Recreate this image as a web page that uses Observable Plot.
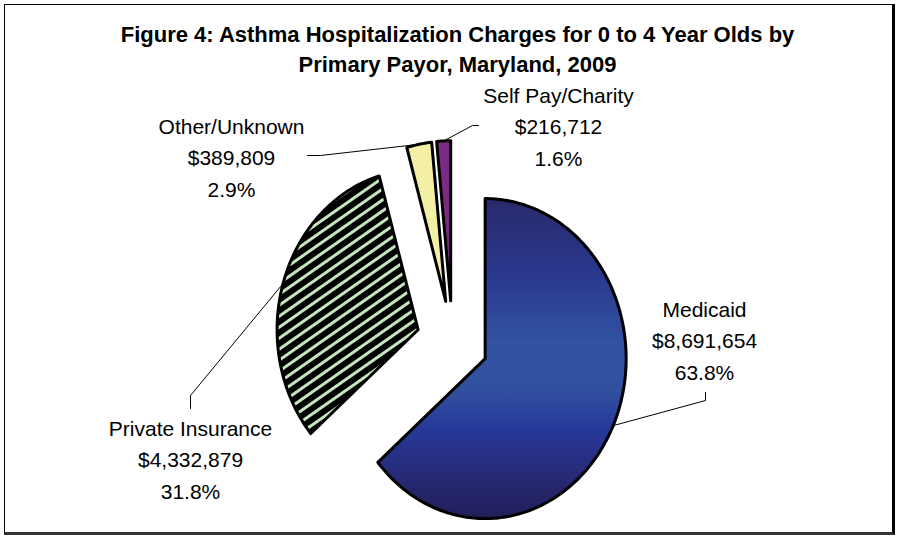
<!DOCTYPE html>
<html>
<head>
<meta charset="utf-8">
<script src="https://cdn.jsdelivr.net/npm/d3@7"></script>
<script src="https://cdn.jsdelivr.net/npm/@observablehq/plot@0.6"></script>
<style>
  html, body { margin: 0; padding: 0; background: #fff; }
  #wrap { position: relative; width: 900px; height: 540px; overflow: hidden; }
  #border { position: absolute; left: 4px; top: 4px; width: 887px; height: 527px;
    border-left: 1px solid #000; border-top: 1px solid #000;
    border-right: 3px solid #000; border-bottom: 3px solid #333; pointer-events: none; }
</style>
</head>
<body>
<div id="wrap"><div id="chart"></div><div id="border"></div></div>
<script>
// ---- data ----
const titleLines = ["Figure 4: Asthma Hospitalization Charges for 0 to 4 Year Olds by", "Primary Payor, Maryland, 2009"];
const categories = ["Medicaid", "Private Insurance", "Other/Unknown", "Self Pay/Charity"];
const charges = [8691654, 4332879, 389809, 216712];

// ---- styles ----
const fills = ["url(#medicaidGrad)", "url(#privateStripes)", "#f3f0a4", "#7b2b82"];

// ---- layout (pixels) ----
const W = 900, H = 540;
const cx = 452, cy = 341, rx = 141, ry = 160; // pie centre and radii (elliptical)
const explode = 0.255;
const labelPx = [[704, 338], [190, 457], [231, 155], [558, 124]];      // label block centres
const leaderPx = [
  [[705, 400], [705, 392]],
  [[190, 395], [190, 408]],
  [[320, 155], [307, 155]],
  [[472, 125], [478, 125]]
];
const fx = px => (px - cx) / rx;
const fy = py => (cy - py) / ry;

const total = d3.sum(charges);
const arcs = d3.pie().sort(null).value(d => d)(charges);

const slicePts = [];
const leaderPts = [];
const labels = [];
arcs.forEach((a, i) => {
  const mid = (a.startAngle + a.endAngle) / 2;
  const ox = explode * Math.sin(mid), oy = explode * Math.cos(mid);
  const key = categories[i];
  slicePts.push({key, x: ox, y: oy, fill: fills[i]});
  const n = Math.max(3, Math.ceil((a.endAngle - a.startAngle) * 180 / Math.PI));
  for (let k = 0; k <= n; k++) {
    const t = a.startAngle + (a.endAngle - a.startAngle) * k / n;
    slicePts.push({key, x: ox + Math.sin(t), y: oy + Math.cos(t), fill: fills[i]});
  }
  leaderPts.push({key, x: ox + Math.sin(mid), y: oy + Math.cos(mid)});
  leaderPx[i].forEach(([px, py]) => leaderPts.push({key, x: fx(px), y: fy(py)}));
  labels.push({
    x: fx(labelPx[i][0]), y: fy(labelPx[i][1]),
    text: `${key}\n$${d3.format(",")(charges[i])}\n${d3.format(".1%")(charges[i] / total)}`
  });
});

const plot = Plot.plot({
  width: W, height: H,
  margin: 0,
  x: {domain: [fx(0), fx(W)], axis: null},
  y: {domain: [fy(H), fy(0)], axis: null},
  color: {type: "identity"},
  style: {fontFamily: "'Liberation Sans', Arial, sans-serif", background: "#fff", color: "#000"},
  marks: [
    Plot.line(leaderPts, {x: "x", y: "y", z: "key", stroke: "#000", strokeWidth: 1}),
    Plot.line(slicePts, {x: "x", y: "y", z: "key", fill: "fill", stroke: "#000",
      strokeWidth: 3, strokeLinejoin: "round", curve: "linear-closed"}),
    Plot.text(labels, {x: "x", y: "y", text: "text", fontSize: 21, lineHeight: 1.48,
      lineAnchor: "middle", fill: "#000"}),
    Plot.text([titleLines.join("\n")], {frameAnchor: "top", dx: 7, dy: 47, lineAnchor: "middle",
      fontSize: 22, fontWeight: "bold", lineHeight: 1.36, fill: "#000"})
  ]
});

const svg = d3.select(plot);
const defs = svg.insert("defs", ":first-child");
const grad = defs.append("linearGradient").attr("id", "medicaidGrad")
  .attr("x1", 0).attr("y1", 0).attr("x2", 0).attr("y2", 1);
[[0, "#29296b"], [0.25, "#2a3a90"], [0.45, "#3252a2"], [0.6, "#3150a0"],
 [0.72, "#26399a"], [0.86, "#272a76"], [1, "#211e58"]]
  .forEach(([o, c]) => grad.append("stop").attr("offset", o).attr("stop-color", c));
const pat = defs.append("pattern").attr("id", "privateStripes")
  .attr("patternUnits", "userSpaceOnUse").attr("width", 9).attr("height", 9)
  .attr("patternTransform", "rotate(-35)");
pat.append("rect").attr("width", 9).attr("height", 9).attr("fill", "#000");
pat.append("rect").attr("y", 3).attr("width", 9).attr("height", 3).attr("fill", "#c6e4bd");

document.getElementById("chart").appendChild(plot);
</script>
</body>
</html>
